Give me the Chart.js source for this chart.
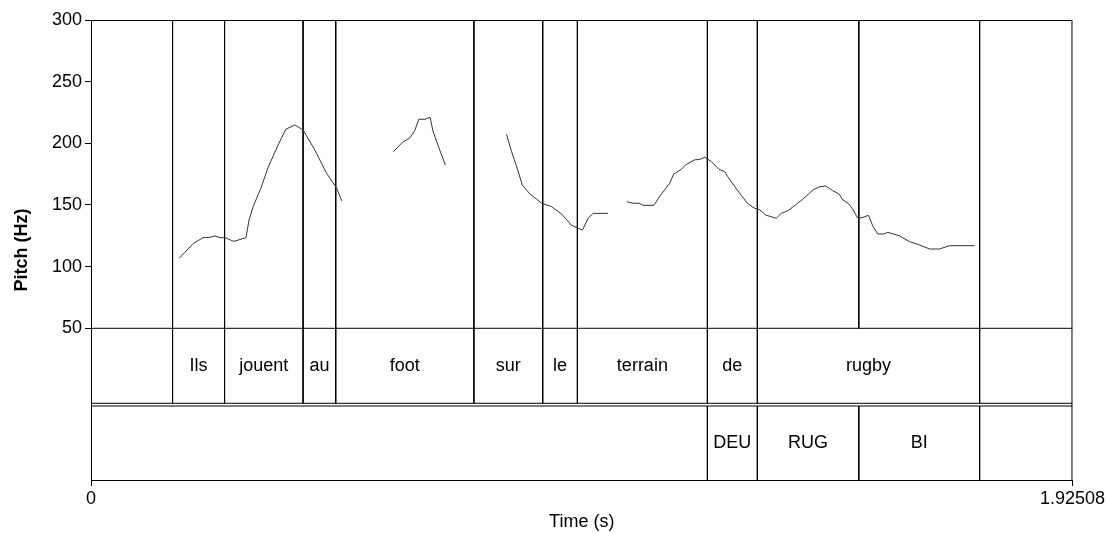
<!DOCTYPE html>
<html>
<head>
<meta charset="utf-8">
<script src="https://cdn.jsdelivr.net/npm/chart.js@4"></script>
<style>
  body { margin: 0; background: #fff; }
  #wrap { width: 1107px; height: 533px; position: relative; }
</style>
</head>
<body>
<div id="wrap"><canvas id="pitch"></canvas></div>
<script>
// Time axis / pitch axis ticks
const timeEnd = 1.92508;
const timeTicks = [0, 1.92508];
const hzTicks = [50, 100, 150, 200, 250, 300];

// Pitch contour, one pair of arrays per voiced stretch (s, Hz)
const ilsJouentAuT = [0.173, 0.201, 0.220, 0.233, 0.243, 0.253, 0.263, 0.280, 0.304, 0.310, 0.318, 0.333, 0.348, 0.367, 0.382, 0.400, 0.416, 0.439, 0.462, 0.482, 0.492];
const ilsJouentAuHz = [106.8, 118.9, 123.5, 123.8, 124.9, 123.5, 123.5, 120.5, 123.5, 137.8, 148.6, 163.5, 181.1, 198.6, 211.4, 214.9, 210.8, 194.6, 175.7, 163.5, 153.2];

const footT = [0.593, 0.612, 0.625, 0.635, 0.643, 0.655, 0.665, 0.671, 0.684, 0.695];
const footHz = [193.2, 201.3, 204.1, 210.3, 219.5, 219.5, 221.1, 209.5, 194.6, 182.4];

const surLeT = [0.815, 0.825, 0.836, 0.846, 0.861, 0.884, 0.903, 0.923, 0.942, 0.955, 0.964, 0.975, 0.985, 1.014];
const surLeHz = [207.3, 193.2, 179.7, 166.2, 158.9, 151.4, 148.7, 142.7, 133.8, 131.1, 129.7, 139.2, 143.2, 143.2];

const terrainRugbyT = [1.051, 1.063, 1.075, 1.083, 1.104, 1.116, 1.135, 1.143, 1.158, 1.166, 1.183, 1.194, 1.204, 1.217, 1.232, 1.243, 1.249, 1.263, 1.276, 1.289, 1.302, 1.312, 1.323, 1.344, 1.354, 1.367, 1.384, 1.396, 1.416, 1.429, 1.441, 1.455, 1.467, 1.475, 1.485, 1.493, 1.504, 1.514, 1.525, 1.534, 1.543, 1.555, 1.563, 1.586, 1.606, 1.625, 1.645, 1.664, 1.684, 1.733];
const terrainRugbyHz = [152.7, 151.4, 151.4, 149.7, 149.7, 157.3, 167.6, 175.1, 178.9, 182.4, 186.5, 187.0, 188.7, 185.1, 178.9, 177.0, 172.9, 164.8, 157.5, 150.8, 147.3, 146.0, 141.9, 139.2, 143.2, 145.4, 150.8, 154.6, 162.2, 164.8, 165.4, 161.6, 158.9, 154.0, 151.4, 147.3, 139.2, 140.0, 141.6, 132.4, 126.5, 126.5, 127.8, 124.9, 120.2, 117.6, 114.3, 114.3, 117.0, 117.0];

// TextGrid tiers: words[i] runs from wordEdges[i] to wordEdges[i+1]
const wordEdges = [0.160, 0.262, 0.416, 0.480, 0.751, 0.886, 0.954, 1.209, 1.307, 1.743];
const words = ['Ils', 'jouent', 'au', 'foot', 'sur', 'le', 'terrain', 'de', 'rugby'];
const syllEdges = [1.209, 1.307, 1.506, 1.743];
const sylls = ['DEU', 'RUG', 'BI'];

// where the tiers sit below the pitch floor, in axis units
const yBottom = -73;
const pitchFloor = 50;
const tier1Bottom = -10.8;
const tier2Top = -13;

const FONT = "'Liberation Sans', Arial, sans-serif";

function zipXY(ts, hs) {
  return ts.map((t, i) => ({ x: t, y: hs[i] }));
}

// vertical boundary segments, broken by null points
const allEdges = Array.from(new Set(wordEdges.concat(syllEdges))).sort((a, b) => a - b);
let boundaryPts = [];
allEdges.forEach(t => {
  const inWords = wordEdges.includes(t);
  boundaryPts.push({ x: t, y: 300 }, { x: t, y: inWords ? tier1Bottom : pitchFloor }, { x: t, y: null });
});
syllEdges.forEach(t => {
  boundaryPts.push({ x: t, y: tier2Top }, { x: t, y: yBottom }, { x: t, y: null });
});

let hLines = [];
[pitchFloor, tier1Bottom, tier2Top].forEach(v => {
  hLines.push({ x: 0, y: v }, { x: timeEnd, y: v }, { x: 0, y: null });
});

const lineStyle = { borderColor: '#000', borderWidth: 1, pointRadius: 0, spanGaps: false, tension: 0, fill: false };
const contourStyle = Object.assign({}, lineStyle, { borderColor: '#333' });

// frame + tier labels
const tierPlugin = {
  id: 'tiers',
  afterDatasetsDraw(chart) {
    const { ctx, chartArea, scales } = chart;
    const xs = scales.x, ys = scales.y;
    ctx.save();
    ctx.strokeStyle = '#000';
    ctx.lineWidth = 1;
    ctx.strokeRect(chartArea.left + 0.5, chartArea.top + 0.5, chartArea.right - chartArea.left - 1, chartArea.bottom - chartArea.top);
    ctx.fillStyle = '#000';
    ctx.font = '18px ' + FONT;
    ctx.textAlign = 'center';
    ctx.textBaseline = 'middle';
    const y1 = ys.getPixelForValue((pitchFloor + tier1Bottom) / 2);
    words.forEach((w, i) => {
      const x = xs.getPixelForValue((wordEdges[i] + wordEdges[i + 1]) / 2);
      ctx.fillText(w, x, y1);
    });
    const y2 = ys.getPixelForValue((tier2Top + yBottom) / 2);
    sylls.forEach((s, i) => {
      const x = xs.getPixelForValue((syllEdges[i] + syllEdges[i + 1]) / 2);
      ctx.fillText(s, x, y2);
    });
    ctx.restore();
  }
};

const ctx = document.getElementById('pitch').getContext('2d');
new Chart(ctx, {
  type: 'line',
  data: {
    datasets: [
      Object.assign({ data: zipXY(ilsJouentAuT, ilsJouentAuHz) }, contourStyle),
      Object.assign({ data: zipXY(footT, footHz) }, contourStyle),
      Object.assign({ data: zipXY(surLeT, surLeHz) }, contourStyle),
      Object.assign({ data: zipXY(terrainRugbyT, terrainRugbyHz) }, contourStyle),
      Object.assign({ data: boundaryPts }, lineStyle),
      Object.assign({ data: hLines }, lineStyle)
    ]
  },
  options: {
    responsive: true,
    maintainAspectRatio: false,
    animation: false,
    layout: { padding: { top: 20, right: 34, left: 0, bottom: 0 } },
    plugins: { legend: { display: false }, tooltip: { enabled: false } },
    scales: {
      x: {
        type: 'linear',
        min: 0,
        max: timeEnd,
        afterBuildTicks: s => { s.ticks = timeTicks.map(v => ({ value: v })); },
        afterFit: s => { s.height = 53; },
        ticks: { color: '#000', font: { family: FONT, size: 18 }, padding: 2, maxRotation: 0,
          callback: v => String(v) },
        grid: { drawOnChartArea: false, drawTicks: true, tickLength: 6, color: '#000' },
        border: { display: true, color: '#000', width: 1 },
        title: { display: true, text: 'Time (s)', color: '#000', font: { family: FONT, size: 18 }, padding: { top: 0, bottom: 0 } }
      },
      y: {
        type: 'linear',
        min: yBottom,
        max: 300,
        afterBuildTicks: s => { s.ticks = hzTicks.map(v => ({ value: v })); },
        afterFit: s => { s.width = 91; },
        ticks: { color: '#000', font: { family: FONT, size: 18 }, padding: 3 },
        grid: { drawOnChartArea: false, drawTicks: true, tickLength: 6, color: '#000' },
        border: { display: true, color: '#000', width: 1 },
        title: { display: true, text: 'Pitch (Hz)', color: '#000', font: { family: FONT, size: 18, weight: 'bold' }, padding: { top: 11, bottom: 0 } }
      }
    }
  },
  plugins: [tierPlugin]
});
</script>
</body>
</html>
